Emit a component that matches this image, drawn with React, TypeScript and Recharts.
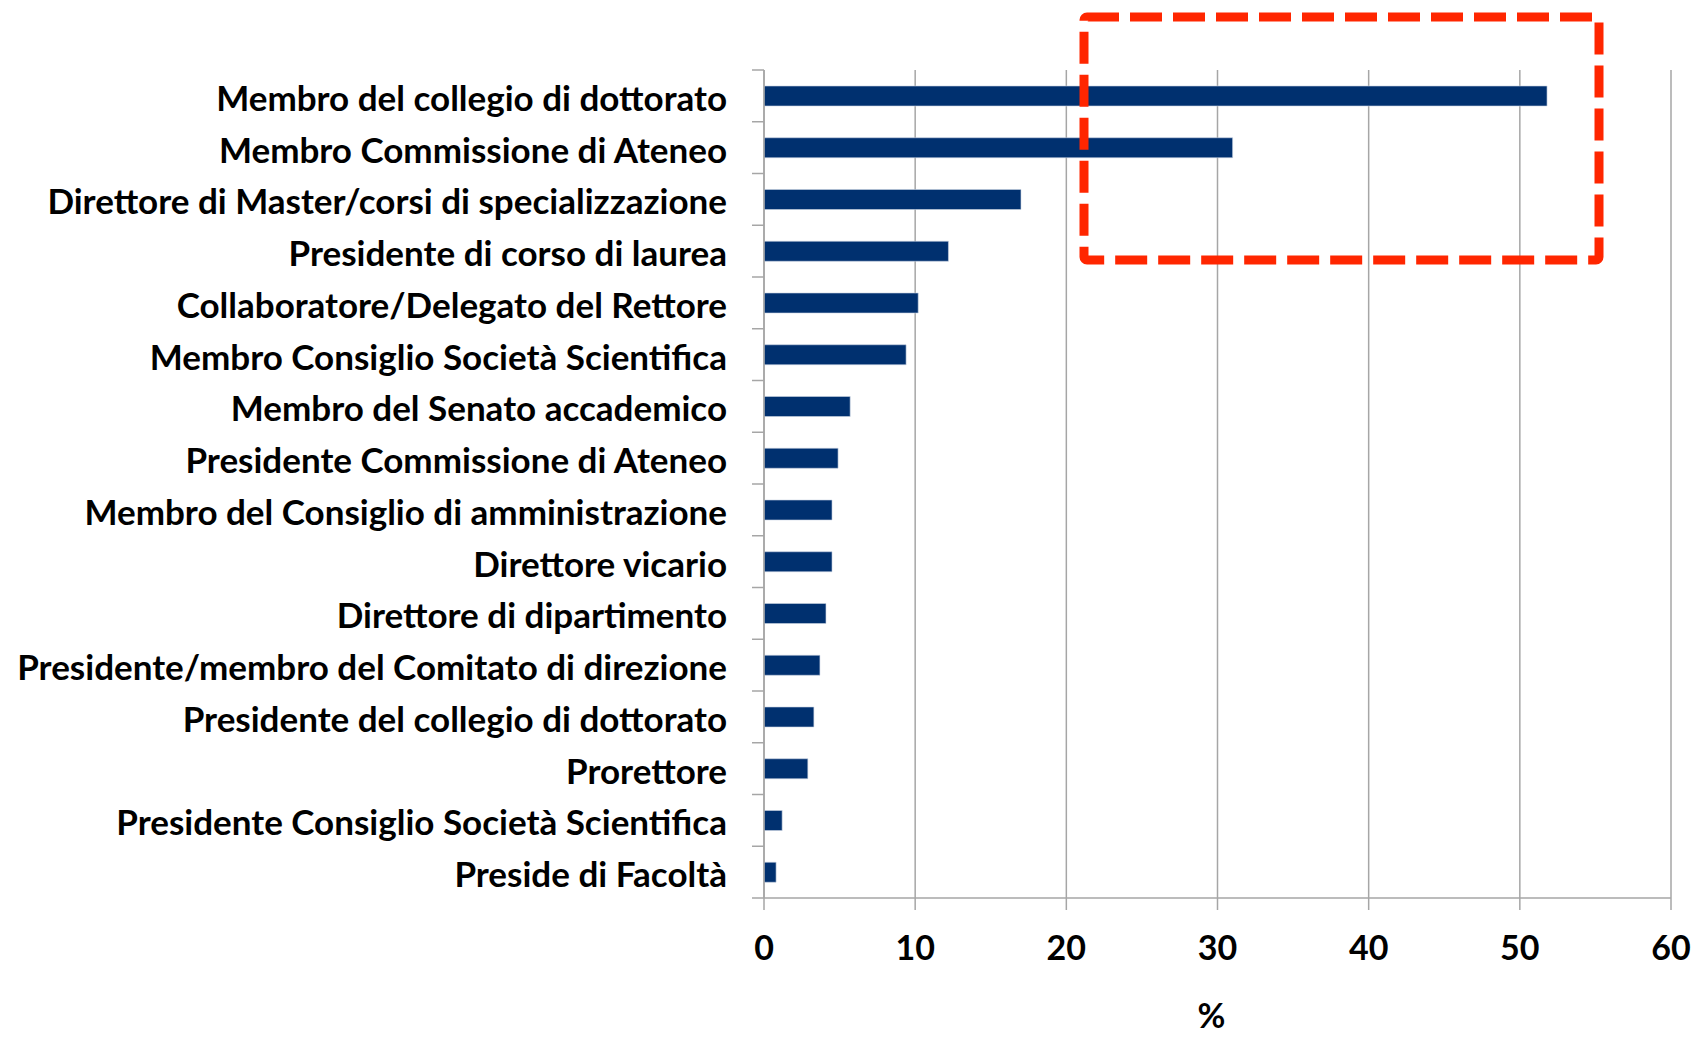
import React from "react";
import {
  BarChart,
  Bar,
  XAxis,
  YAxis,
  CartesianGrid,
} from "recharts";

const roles = [
  "Membro del collegio di dottorato",
  "Membro Commissione di Ateneo",
  "Direttore di Master/corsi di specializzazione",
  "Presidente di corso di laurea",
  "Collaboratore/Delegato del Rettore",
  "Membro Consiglio Società Scientifica",
  "Membro del Senato accademico",
  "Presidente Commissione di Ateneo",
  "Membro del Consiglio di amministrazione",
  "Direttore vicario",
  "Direttore di dipartimento",
  "Presidente/membro del Comitato di direzione",
  "Presidente del collegio di dottorato",
  "Prorettore",
  "Presidente Consiglio Società Scientifica",
  "Preside di Facoltà",
];

const percents = [
  51.8, 31.0, 17.0, 12.2, 10.2, 9.4, 5.7, 4.9, 4.5, 4.5, 4.1, 3.7, 3.3, 2.9,
  1.2, 0.8,
];

const xTicks = [0, 10, 20, 30, 40, 50, 60];

const data = roles.map((role, i) => ({ role, pct: percents[i] }));

const W = 1695;
const H = 1037;
const AXIS_X = 764;
const TOP = 70;
const BOTTOM_H = 139;
const BAND = (H - TOP - BOTTOM_H) / roles.length;
const AXIS_GREY = "#a6a6a6";
const FONT = "Lato, 'Open Sans', sans-serif";

function RoleTick({
  y,
  payload,
  index,
}: {
  y?: number;
  payload?: { value: string };
  index?: number;
}) {
  const cy = y ?? 0;
  return (
    <g>
      <line
        x1={AXIS_X - 12}
        x2={AXIS_X}
        y1={cy - BAND / 2}
        y2={cy - BAND / 2}
        stroke={AXIS_GREY}
        strokeWidth={1.5}
      />
      {index === roles.length - 1 && (
        <line
          x1={AXIS_X - 12}
          x2={AXIS_X}
          y1={cy + BAND / 2}
          y2={cy + BAND / 2}
          stroke={AXIS_GREY}
          strokeWidth={1.5}
        />
      )}
      <text
        x={727}
        y={cy}
        dy="0.43em"
        textAnchor="end"
        fontFamily={FONT}
        fontWeight={700}
        fontSize={35}
        fill="#000"
      >
        {payload?.value}
      </text>
    </g>
  );
}

export default function App() {
  return (
    <div
      style={{
        position: "absolute",
        left: 0,
        top: 0,
        width: W,
        height: H,
        background: "#fff",
      }}
    >
      <BarChart
        width={W}
        height={H}
        data={data}
        layout="vertical"
        margin={{ top: TOP, right: 24, left: 0, bottom: 0 }}
        barCategoryGap={0}
      >
        <CartesianGrid
          horizontal={false}
          stroke={AXIS_GREY}
          strokeWidth={1.5}
        />
        <XAxis
          type="number"
          domain={[0, 60]}
          ticks={xTicks}
          height={BOTTOM_H}
          stroke={AXIS_GREY}
          strokeWidth={1.5}
          tickSize={12}
          tickMargin={26}
          tick={{
            fontSize: 34,
            fontWeight: 700,
            fill: "#000",
            fontFamily: FONT,
          }}
          label={{
            value: "%",
            position: "insideBottom",
            offset: 9,
            dx: -6,
            fontSize: 34,
            fontWeight: 700,
            fill: "#000",
            fontFamily: FONT,
          }}
        />
        <YAxis
          type="category"
          dataKey="role"
          width={AXIS_X}
          stroke={AXIS_GREY}
          strokeWidth={1.5}
          tickLine={false}
          interval={0}
          tick={<RoleTick />}
        />
        <Bar
          dataKey="pct"
          fill="#00306f"
          stroke="#c9d3e3"
          strokeWidth={0.6}
          barSize={20}
          isAnimationActive={false}
        />
      </BarChart>
      <svg
        width={W}
        height={H}
        style={{ position: "absolute", left: 0, top: 0, pointerEvents: "none" }}
      >
        <rect
          x={1084}
          y={17}
          width={515}
          height={243}
          rx={3}
          fill="none"
          stroke="#ff2600"
          strokeWidth={9}
          strokeDasharray="32 11"
        />
      </svg>
    </div>
  );
}
